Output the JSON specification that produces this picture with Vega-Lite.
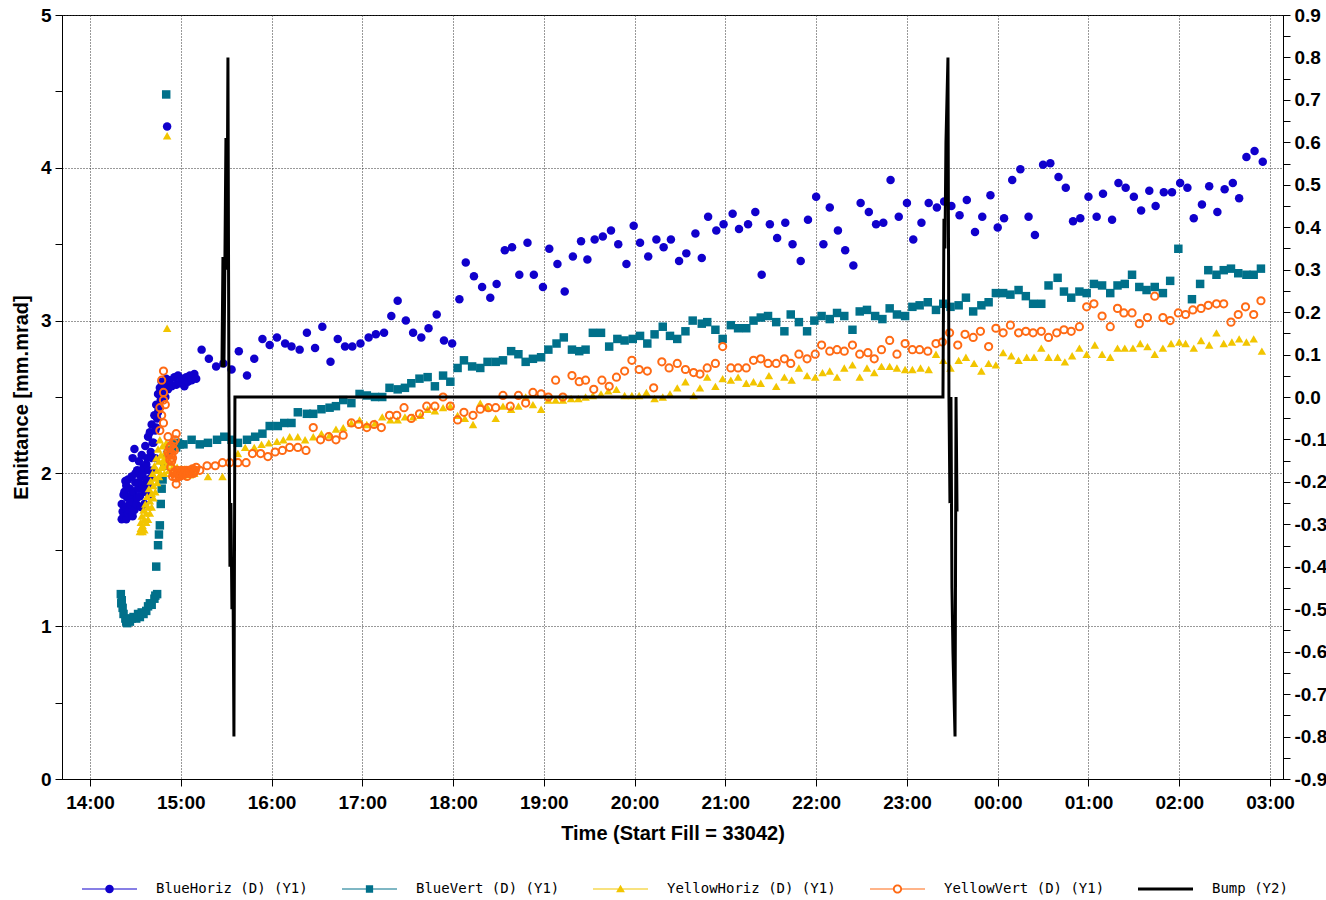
{
  "$schema": "https://vega.github.io/schema/vega-lite/v6.json",
  "width": 1221,
  "height": 764,
  "autosize": {"type": "none"},
  "padding": {"left": 62, "top": 15, "right": 43, "bottom": 121},
  "background": "white",
  "config": {
    "view": {"stroke": "black", "strokeWidth": 1},
    "axis": {
      "domainColor": "black", "tickColor": "black", "labelColor": "black", "titleColor": "black",
      "labelFont": "Liberation Sans", "labelFontWeight": "bold", "labelFontSize": 19,
      "titleFont": "Liberation Sans", "titleFontWeight": "bold", "titleFontSize": 20,
      "gridColor": "#333333", "gridDash": [1, 2], "gridWidth": 1, "tickSize": 7, "tickWidth": 1, "labelPadding": 4
    }
  },
  "datasets": {
    "pts": [
      {"t":14.35,"s":"BH","v":1.70},{"t":14.35,"s":"BH","v":1.80},{"t":14.36,"s":"BH","v":1.75},{"t":14.37,"s":"BH","v":1.72},{"t":14.37,"s":"BH","v":1.86},{"t":14.38,"s":"BH","v":1.88},{"t":14.39,"s":"BH","v":1.78},{"t":14.39,"s":"BH","v":1.95},{"t":14.40,"s":"BH","v":1.92},{"t":14.40,"s":"BH","v":1.70},{"t":14.41,"s":"BH","v":1.84},{"t":14.42,"s":"BH","v":1.96},{"t":14.42,"s":"BH","v":1.74},{"t":14.43,"s":"BH","v":1.76},{"t":14.44,"s":"BH","v":1.90},{"t":14.44,"s":"BH","v":1.80},{"t":14.45,"s":"BH","v":1.82},{"t":14.46,"s":"BH","v":1.98},{"t":14.46,"s":"BH","v":1.86},{"t":14.47,"s":"BH","v":1.72},{"t":14.47,"s":"BH","v":2.10},{"t":14.48,"s":"BH","v":1.88},{"t":14.49,"s":"BH","v":2.16},{"t":14.49,"s":"BH","v":1.76},{"t":14.50,"s":"BH","v":1.94},{"t":14.50,"s":"BH","v":2.00},{"t":14.51,"s":"BH","v":1.80},{"t":14.52,"s":"BH","v":2.02},{"t":14.52,"s":"BH","v":1.84},{"t":14.53,"s":"BH","v":1.90},{"t":14.54,"s":"BH","v":2.08},{"t":14.54,"s":"BH","v":1.94},{"t":14.55,"s":"BH","v":1.85},{"t":14.56,"s":"BH","v":1.98},{"t":14.56,"s":"BH","v":1.78},{"t":14.57,"s":"BH","v":2.12},{"t":14.58,"s":"BH","v":1.92},{"t":14.58,"s":"BH","v":2.00},{"t":14.59,"s":"BH","v":2.04},{"t":14.60,"s":"BH","v":1.88},{"t":14.60,"s":"BH","v":1.80},{"t":14.61,"s":"BH","v":2.18},{"t":14.62,"s":"BH","v":1.96},{"t":14.62,"s":"BH","v":2.06},{"t":14.63,"s":"BH","v":2.10},{"t":14.64,"s":"BH","v":2.24},{"t":14.64,"s":"BH","v":1.92},{"t":14.65,"s":"BH","v":2.02},{"t":14.65,"s":"BH","v":1.86},{"t":14.66,"s":"BH","v":2.27},{"t":14.67,"s":"BH","v":2.14},{"t":14.67,"s":"BH","v":1.97},{"t":14.68,"s":"BH","v":2.32},{"t":14.68,"s":"BH","v":2.10},{"t":14.69,"s":"BH","v":2.20},{"t":14.70,"s":"BH","v":2.02},{"t":14.70,"s":"BH","v":2.20},{"t":14.71,"s":"BH","v":2.38},{"t":14.72,"s":"BH","v":2.28},{"t":14.72,"s":"BH","v":2.10},{"t":14.73,"s":"BH","v":2.45},{"t":14.73,"s":"BH","v":2.30},{"t":14.74,"s":"BH","v":2.36},{"t":14.75,"s":"BH","v":2.52},{"t":14.75,"s":"BH","v":2.40},{"t":14.76,"s":"BH","v":2.42},{"t":14.77,"s":"BH","v":2.56},{"t":14.78,"s":"BH","v":2.48},{"t":14.79,"s":"BH","v":2.60},{"t":14.80,"s":"BH","v":2.52},{"t":14.82,"s":"BH","v":2.58},{"t":14.83,"s":"BH","v":2.50},{"t":14.84,"s":"BH","v":2.62},{"t":14.85,"s":"BH","v":4.27},{"t":14.86,"s":"BH","v":2.55},{"t":14.88,"s":"BH","v":2.61},{"t":14.90,"s":"BH","v":2.57},{"t":14.93,"s":"BH","v":2.63},{"t":14.95,"s":"BH","v":2.58},{"t":14.97,"s":"BH","v":2.64},{"t":14.99,"s":"BH","v":2.59},{"t":15.01,"s":"BH","v":2.62},{"t":15.04,"s":"BH","v":2.57},{"t":15.06,"s":"BH","v":2.63},{"t":15.08,"s":"BH","v":2.60},{"t":15.10,"s":"BH","v":2.64},{"t":15.12,"s":"BH","v":2.61},{"t":15.15,"s":"BH","v":2.65},{"t":15.17,"s":"BH","v":2.62},
      {"t":15.23,"s":"BH","v":2.81},{"t":15.31,"s":"BH","v":2.75},{"t":15.39,"s":"BH","v":2.70},{"t":15.47,"s":"BH","v":2.72},{"t":15.56,"s":"BH","v":2.68},{"t":15.64,"s":"BH","v":2.80},{"t":15.73,"s":"BH","v":2.64},{"t":15.81,"s":"BH","v":2.75},{"t":15.90,"s":"BH","v":2.88},{"t":15.98,"s":"BH","v":2.84},{"t":16.06,"s":"BH","v":2.89},{"t":16.15,"s":"BH","v":2.85},{"t":16.22,"s":"BH","v":2.83},{"t":16.31,"s":"BH","v":2.81},{"t":16.39,"s":"BH","v":2.92},{"t":16.48,"s":"BH","v":2.82},{"t":16.56,"s":"BH","v":2.96},{"t":16.65,"s":"BH","v":2.73},{"t":16.73,"s":"BH","v":2.88},{"t":16.81,"s":"BH","v":2.83},{"t":16.89,"s":"BH","v":2.83},{"t":16.98,"s":"BH","v":2.85},{"t":17.07,"s":"BH","v":2.89},{"t":17.15,"s":"BH","v":2.91},{"t":17.24,"s":"BH","v":2.92},{"t":17.32,"s":"BH","v":3.03},{"t":17.39,"s":"BH","v":3.13},{"t":17.48,"s":"BH","v":3.00},{"t":17.56,"s":"BH","v":2.92},{"t":17.65,"s":"BH","v":2.89},{"t":17.73,"s":"BH","v":2.95},{"t":17.82,"s":"BH","v":3.04},{"t":17.90,"s":"BH","v":2.87},{"t":17.99,"s":"BH","v":2.85},{"t":18.07,"s":"BH","v":3.14},{"t":18.14,"s":"BH","v":3.38},{"t":18.23,"s":"BH","v":3.29},{"t":18.32,"s":"BH","v":3.22},{"t":18.41,"s":"BH","v":3.15},{"t":18.48,"s":"BH","v":3.24},{"t":18.57,"s":"BH","v":3.46},{"t":18.65,"s":"BH","v":3.48},{"t":18.73,"s":"BH","v":3.30},{"t":18.82,"s":"BH","v":3.51},{"t":18.89,"s":"BH","v":3.30},{"t":18.99,"s":"BH","v":3.22},{"t":19.06,"s":"BH","v":3.47},{"t":19.15,"s":"BH","v":3.37},{"t":19.23,"s":"BH","v":3.19},{"t":19.32,"s":"BH","v":3.42},{"t":19.41,"s":"BH","v":3.52},{"t":19.48,"s":"BH","v":3.40},{"t":19.56,"s":"BH","v":3.53},{"t":19.65,"s":"BH","v":3.55},{"t":19.74,"s":"BH","v":3.59},{"t":19.82,"s":"BH","v":3.50},{"t":19.91,"s":"BH","v":3.37},{"t":19.99,"s":"BH","v":3.62},{"t":20.06,"s":"BH","v":3.51},{"t":20.15,"s":"BH","v":3.42},{"t":20.24,"s":"BH","v":3.53},{"t":20.32,"s":"BH","v":3.48},{"t":20.40,"s":"BH","v":3.53},{"t":20.49,"s":"BH","v":3.39},{"t":20.57,"s":"BH","v":3.44},{"t":20.67,"s":"BH","v":3.57},{"t":20.74,"s":"BH","v":3.41},{"t":20.81,"s":"BH","v":3.68},{"t":20.90,"s":"BH","v":3.59},{"t":20.98,"s":"BH","v":3.63},{"t":21.08,"s":"BH","v":3.70},{"t":21.15,"s":"BH","v":3.60},{"t":21.25,"s":"BH","v":3.63},{"t":21.33,"s":"BH","v":3.71},{"t":21.40,"s":"BH","v":3.30},{"t":21.49,"s":"BH","v":3.63},{"t":21.57,"s":"BH","v":3.54},{"t":21.66,"s":"BH","v":3.64},{"t":21.74,"s":"BH","v":3.50},{"t":21.83,"s":"BH","v":3.39},{"t":21.91,"s":"BH","v":3.66},{"t":22.00,"s":"BH","v":3.81},{"t":22.08,"s":"BH","v":3.50},{"t":22.15,"s":"BH","v":3.74},{"t":22.24,"s":"BH","v":3.59},{"t":22.32,"s":"BH","v":3.46},{"t":22.41,"s":"BH","v":3.36},{"t":22.49,"s":"BH","v":3.77},{"t":22.58,"s":"BH","v":3.71},{"t":22.66,"s":"BH","v":3.63},{"t":22.74,"s":"BH","v":3.64},{"t":22.82,"s":"BH","v":3.92},{"t":22.91,"s":"BH","v":3.68},{"t":23.00,"s":"BH","v":3.77},{"t":23.07,"s":"BH","v":3.53},{"t":23.16,"s":"BH","v":3.64},{"t":23.24,"s":"BH","v":3.77},{"t":23.33,"s":"BH","v":3.74},{"t":23.41,"s":"BH","v":3.78},{"t":23.49,"s":"BH","v":3.75},{"t":23.58,"s":"BH","v":3.69},{"t":23.66,"s":"BH","v":3.79},{"t":23.75,"s":"BH","v":3.58},{"t":23.83,"s":"BH","v":3.68},{"t":23.92,"s":"BH","v":3.82},{"t":24.00,"s":"BH","v":3.61},{"t":24.07,"s":"BH","v":3.67},{"t":24.16,"s":"BH","v":3.92},{"t":24.25,"s":"BH","v":3.99},{"t":24.34,"s":"BH","v":3.68},{"t":24.41,"s":"BH","v":3.56},{"t":24.50,"s":"BH","v":4.02},{"t":24.58,"s":"BH","v":4.03},{"t":24.67,"s":"BH","v":3.94},{"t":24.75,"s":"BH","v":3.87},{"t":24.83,"s":"BH","v":3.65},{"t":24.91,"s":"BH","v":3.67},{"t":25.00,"s":"BH","v":3.81},{"t":25.09,"s":"BH","v":3.68},{"t":25.16,"s":"BH","v":3.83},{"t":25.26,"s":"BH","v":3.66},{"t":25.33,"s":"BH","v":3.90},{"t":25.41,"s":"BH","v":3.87},{"t":25.50,"s":"BH","v":3.81},{"t":25.58,"s":"BH","v":3.72},{"t":25.67,"s":"BH","v":3.85},{"t":25.74,"s":"BH","v":3.75},{"t":25.83,"s":"BH","v":3.84},{"t":25.92,"s":"BH","v":3.84},{"t":26.01,"s":"BH","v":3.90},{"t":26.09,"s":"BH","v":3.87},{"t":26.16,"s":"BH","v":3.67},{"t":26.25,"s":"BH","v":3.76},{"t":26.33,"s":"BH","v":3.88},{"t":26.42,"s":"BH","v":3.71},{"t":26.50,"s":"BH","v":3.86},{"t":26.59,"s":"BH","v":3.90},{"t":26.66,"s":"BH","v":3.80},{"t":26.74,"s":"BH","v":4.07},{"t":26.83,"s":"BH","v":4.11},{"t":26.92,"s":"BH","v":4.04},
      {"t":14.34,"s":"BV","v":1.21},{"t":14.345,"s":"BV","v":1.15},{"t":14.35,"s":"BV","v":1.17},{"t":14.36,"s":"BV","v":1.12},{"t":14.37,"s":"BV","v":1.08},{"t":14.39,"s":"BV","v":1.05},{"t":14.40,"s":"BV","v":1.03},{"t":14.41,"s":"BV","v":1.02},{"t":14.42,"s":"BV","v":1.04},{"t":14.44,"s":"BV","v":1.03},{"t":14.46,"s":"BV","v":1.05},{"t":14.48,"s":"BV","v":1.06},{"t":14.51,"s":"BV","v":1.05},{"t":14.53,"s":"BV","v":1.08},{"t":14.55,"s":"BV","v":1.06},{"t":14.57,"s":"BV","v":1.09},{"t":14.59,"s":"BV","v":1.08},{"t":14.62,"s":"BV","v":1.10},{"t":14.64,"s":"BV","v":1.13},{"t":14.66,"s":"BV","v":1.15},{"t":14.68,"s":"BV","v":1.14},{"t":14.71,"s":"BV","v":1.18},{"t":14.72,"s":"BV","v":1.20},{"t":14.73,"s":"BV","v":1.39},{"t":14.74,"s":"BV","v":1.21},{"t":14.75,"s":"BV","v":1.53},{"t":14.76,"s":"BV","v":1.60},{"t":14.77,"s":"BV","v":1.66},{"t":14.78,"s":"BV","v":1.80},{"t":14.79,"s":"BV","v":1.90},{"t":14.80,"s":"BV","v":1.96},{"t":14.82,"s":"BV","v":2.05},{"t":14.84,"s":"BV","v":4.48},{"t":14.85,"s":"BV","v":2.12},{"t":14.86,"s":"BV","v":2.15},{"t":14.88,"s":"BV","v":2.18},{"t":14.90,"s":"BV","v":2.16},{"t":14.93,"s":"BV","v":2.19},{"t":14.95,"s":"BV","v":2.17},{"t":14.97,"s":"BV","v":2.20},{"t":14.99,"s":"BV","v":2.19},
      {"t":15.03,"s":"BV","v":2.19},{"t":15.12,"s":"BV","v":2.22},{"t":15.21,"s":"BV","v":2.19},{"t":15.30,"s":"BV","v":2.20},{"t":15.40,"s":"BV","v":2.22},{"t":15.48,"s":"BV","v":2.24},{"t":15.56,"s":"BV","v":2.22},{"t":15.63,"s":"BV","v":2.20},{"t":15.73,"s":"BV","v":2.22},{"t":15.82,"s":"BV","v":2.24},{"t":15.90,"s":"BV","v":2.26},{"t":15.98,"s":"BV","v":2.31},{"t":16.07,"s":"BV","v":2.31},{"t":16.14,"s":"BV","v":2.33},{"t":16.22,"s":"BV","v":2.33},{"t":16.29,"s":"BV","v":2.40},{"t":16.39,"s":"BV","v":2.39},{"t":16.46,"s":"BV","v":2.39},{"t":16.55,"s":"BV","v":2.42},{"t":16.64,"s":"BV","v":2.43},{"t":16.71,"s":"BV","v":2.44},{"t":16.79,"s":"BV","v":2.48},{"t":16.88,"s":"BV","v":2.46},{"t":16.97,"s":"BV","v":2.52},{"t":17.05,"s":"BV","v":2.51},{"t":17.14,"s":"BV","v":2.50},{"t":17.22,"s":"BV","v":2.50},{"t":17.30,"s":"BV","v":2.56},{"t":17.39,"s":"BV","v":2.55},{"t":17.47,"s":"BV","v":2.56},{"t":17.54,"s":"BV","v":2.59},{"t":17.63,"s":"BV","v":2.62},{"t":17.72,"s":"BV","v":2.63},{"t":17.80,"s":"BV","v":2.57},{"t":17.89,"s":"BV","v":2.64},{"t":17.97,"s":"BV","v":2.60},{"t":18.05,"s":"BV","v":2.69},{"t":18.12,"s":"BV","v":2.74},{"t":18.21,"s":"BV","v":2.70},{"t":18.30,"s":"BV","v":2.69},{"t":18.38,"s":"BV","v":2.73},{"t":18.47,"s":"BV","v":2.73},{"t":18.55,"s":"BV","v":2.74},{"t":18.64,"s":"BV","v":2.80},{"t":18.72,"s":"BV","v":2.78},{"t":18.80,"s":"BV","v":2.73},{"t":18.88,"s":"BV","v":2.75},{"t":18.97,"s":"BV","v":2.76},{"t":19.05,"s":"BV","v":2.81},{"t":19.14,"s":"BV","v":2.85},{"t":19.22,"s":"BV","v":2.89},{"t":19.31,"s":"BV","v":2.81},{"t":19.39,"s":"BV","v":2.80},{"t":19.46,"s":"BV","v":2.81},{"t":19.54,"s":"BV","v":2.92},{"t":19.63,"s":"BV","v":2.92},{"t":19.72,"s":"BV","v":2.83},{"t":19.81,"s":"BV","v":2.88},{"t":19.89,"s":"BV","v":2.87},{"t":19.98,"s":"BV","v":2.88},{"t":20.06,"s":"BV","v":2.90},{"t":20.14,"s":"BV","v":2.85},{"t":20.22,"s":"BV","v":2.91},{"t":20.31,"s":"BV","v":2.96},{"t":20.39,"s":"BV","v":2.90},{"t":20.47,"s":"BV","v":2.88},{"t":20.56,"s":"BV","v":2.93},{"t":20.64,"s":"BV","v":3.00},{"t":20.74,"s":"BV","v":2.98},{"t":20.80,"s":"BV","v":2.99},{"t":20.89,"s":"BV","v":2.94},{"t":20.97,"s":"BV","v":2.88},{"t":21.06,"s":"BV","v":2.97},{"t":21.14,"s":"BV","v":2.95},{"t":21.23,"s":"BV","v":2.95},{"t":21.31,"s":"BV","v":3.00},{"t":21.39,"s":"BV","v":3.02},{"t":21.47,"s":"BV","v":3.03},{"t":21.56,"s":"BV","v":2.99},{"t":21.65,"s":"BV","v":2.93},{"t":21.72,"s":"BV","v":3.04},{"t":21.81,"s":"BV","v":2.99},{"t":21.90,"s":"BV","v":2.93},{"t":21.98,"s":"BV","v":3.00},{"t":22.06,"s":"BV","v":3.03},{"t":22.15,"s":"BV","v":3.01},{"t":22.23,"s":"BV","v":3.05},{"t":22.31,"s":"BV","v":3.03},{"t":22.40,"s":"BV","v":2.94},{"t":22.48,"s":"BV","v":3.06},{"t":22.56,"s":"BV","v":3.07},{"t":22.65,"s":"BV","v":3.03},{"t":22.73,"s":"BV","v":3.01},{"t":22.81,"s":"BV","v":3.08},{"t":22.89,"s":"BV","v":3.04},{"t":22.98,"s":"BV","v":3.03},{"t":23.06,"s":"BV","v":3.09},{"t":23.14,"s":"BV","v":3.10},{"t":23.23,"s":"BV","v":3.12},{"t":23.32,"s":"BV","v":3.07},{"t":23.40,"s":"BV","v":3.11},{"t":23.48,"s":"BV","v":3.09},{"t":23.57,"s":"BV","v":3.10},{"t":23.65,"s":"BV","v":3.15},{"t":23.73,"s":"BV","v":3.06},{"t":23.82,"s":"BV","v":3.10},{"t":23.90,"s":"BV","v":3.12},{"t":23.98,"s":"BV","v":3.18},{"t":24.06,"s":"BV","v":3.18},{"t":24.14,"s":"BV","v":3.17},{"t":24.23,"s":"BV","v":3.20},{"t":24.31,"s":"BV","v":3.16},{"t":24.39,"s":"BV","v":3.11},{"t":24.48,"s":"BV","v":3.11},{"t":24.56,"s":"BV","v":3.23},{"t":24.66,"s":"BV","v":3.28},{"t":24.73,"s":"BV","v":3.19},{"t":24.81,"s":"BV","v":3.15},{"t":24.90,"s":"BV","v":3.19},{"t":24.98,"s":"BV","v":3.18},{"t":25.06,"s":"BV","v":3.24},{"t":25.15,"s":"BV","v":3.23},{"t":25.24,"s":"BV","v":3.18},{"t":25.32,"s":"BV","v":3.23},{"t":25.40,"s":"BV","v":3.24},{"t":25.48,"s":"BV","v":3.30},{"t":25.56,"s":"BV","v":3.22},{"t":25.64,"s":"BV","v":3.20},{"t":25.73,"s":"BV","v":3.22},{"t":25.82,"s":"BV","v":3.18},{"t":25.90,"s":"BV","v":3.26},{"t":25.99,"s":"BV","v":3.47},{"t":26.14,"s":"BV","v":3.14},{"t":26.23,"s":"BV","v":3.24},{"t":26.32,"s":"BV","v":3.33},{"t":26.41,"s":"BV","v":3.30},{"t":26.49,"s":"BV","v":3.33},{"t":26.57,"s":"BV","v":3.34},{"t":26.65,"s":"BV","v":3.31},{"t":26.74,"s":"BV","v":3.30},{"t":26.82,"s":"BV","v":3.30},{"t":26.90,"s":"BV","v":3.34},
      {"t":14.55,"s":"YH","v":1.62},{"t":14.56,"s":"YH","v":1.68},{"t":14.56,"s":"YH","v":1.64},{"t":14.57,"s":"YH","v":1.72},{"t":14.58,"s":"YH","v":1.66},{"t":14.58,"s":"YH","v":1.62},{"t":14.59,"s":"YH","v":1.76},{"t":14.60,"s":"YH","v":1.70},{"t":14.60,"s":"YH","v":1.63},{"t":14.61,"s":"YH","v":1.80},{"t":14.62,"s":"YH","v":1.74},{"t":14.62,"s":"YH","v":1.68},{"t":14.63,"s":"YH","v":1.85},{"t":14.64,"s":"YH","v":1.78},{"t":14.64,"s":"YH","v":1.70},{"t":14.65,"s":"YH","v":1.90},{"t":14.66,"s":"YH","v":1.82},{"t":14.66,"s":"YH","v":1.74},{"t":14.67,"s":"YH","v":1.95},{"t":14.68,"s":"YH","v":1.87},{"t":14.68,"s":"YH","v":1.78},{"t":14.69,"s":"YH","v":2.00},{"t":14.70,"s":"YH","v":1.92},{"t":14.70,"s":"YH","v":1.84},{"t":14.71,"s":"YH","v":2.05},{"t":14.72,"s":"YH","v":1.97},{"t":14.72,"s":"YH","v":1.88},{"t":14.73,"s":"YH","v":2.10},{"t":14.74,"s":"YH","v":2.02},{"t":14.74,"s":"YH","v":1.94},{"t":14.75,"s":"YH","v":2.16},{"t":14.76,"s":"YH","v":2.08},{"t":14.76,"s":"YH","v":1.98},{"t":14.77,"s":"YH","v":2.22},{"t":14.78,"s":"YH","v":2.12},{"t":14.78,"s":"YH","v":2.00},{"t":14.79,"s":"YH","v":2.04},{"t":14.80,"s":"YH","v":2.18},{"t":14.80,"s":"YH","v":2.05},{"t":14.81,"s":"YH","v":2.08},{"t":14.82,"s":"YH","v":2.00},{"t":14.82,"s":"YH","v":2.10},{"t":14.83,"s":"YH","v":2.14},{"t":14.84,"s":"YH","v":2.05},{"t":14.84,"s":"YH","v":2.20},{"t":14.85,"s":"YH","v":4.21},{"t":14.85,"s":"YH","v":2.95},{"t":14.86,"s":"YH","v":2.10},{"t":14.87,"s":"YH","v":2.02},{"t":14.88,"s":"YH","v":2.07},{"t":14.90,"s":"YH","v":2.00},{"t":14.92,"s":"YH","v":2.05},{"t":14.94,"s":"YH","v":2.01},{"t":14.96,"s":"YH","v":2.04},{"t":14.98,"s":"YH","v":2.00},{"t":15.00,"s":"YH","v":2.03},{"t":15.02,"s":"YH","v":1.99},{"t":15.04,"s":"YH","v":2.03},{"t":15.06,"s":"YH","v":2.00},{"t":15.08,"s":"YH","v":2.02},{"t":15.10,"s":"YH","v":1.99},{"t":15.12,"s":"YH","v":2.02},{"t":15.15,"s":"YH","v":2.00},
      {"t":15.30,"s":"YH","v":1.98},{"t":15.46,"s":"YH","v":1.98},{"t":15.63,"s":"YH","v":2.13},{"t":15.71,"s":"YH","v":2.17},{"t":15.81,"s":"YH","v":2.17},{"t":15.89,"s":"YH","v":2.19},{"t":15.97,"s":"YH","v":2.20},{"t":16.06,"s":"YH","v":2.21},{"t":16.13,"s":"YH","v":2.22},{"t":16.20,"s":"YH","v":2.24},{"t":16.29,"s":"YH","v":2.24},{"t":16.37,"s":"YH","v":2.22},{"t":16.46,"s":"YH","v":2.24},{"t":16.55,"s":"YH","v":2.26},{"t":16.64,"s":"YH","v":2.25},{"t":16.71,"s":"YH","v":2.29},{"t":16.79,"s":"YH","v":2.30},{"t":16.88,"s":"YH","v":2.33},{"t":16.97,"s":"YH","v":2.35},{"t":17.05,"s":"YH","v":2.32},{"t":17.14,"s":"YH","v":2.33},{"t":17.22,"s":"YH","v":2.37},{"t":17.31,"s":"YH","v":2.35},{"t":17.39,"s":"YH","v":2.35},{"t":17.47,"s":"YH","v":2.37},{"t":17.56,"s":"YH","v":2.37},{"t":17.64,"s":"YH","v":2.38},{"t":17.72,"s":"YH","v":2.42},{"t":17.80,"s":"YH","v":2.41},{"t":17.89,"s":"YH","v":2.43},{"t":17.97,"s":"YH","v":2.44},{"t":18.05,"s":"YH","v":2.38},{"t":18.13,"s":"YH","v":2.36},{"t":18.22,"s":"YH","v":2.32},{"t":18.30,"s":"YH","v":2.46},{"t":18.38,"s":"YH","v":2.43},{"t":18.47,"s":"YH","v":2.36},{"t":18.55,"s":"YH","v":2.44},{"t":18.64,"s":"YH","v":2.42},{"t":18.72,"s":"YH","v":2.44},{"t":18.80,"s":"YH","v":2.50},{"t":18.88,"s":"YH","v":2.45},{"t":18.97,"s":"YH","v":2.42},{"t":19.05,"s":"YH","v":2.48},{"t":19.13,"s":"YH","v":2.48},{"t":19.21,"s":"YH","v":2.48},{"t":19.30,"s":"YH","v":2.49},{"t":19.38,"s":"YH","v":2.49},{"t":19.46,"s":"YH","v":2.50},{"t":19.54,"s":"YH","v":2.51},{"t":19.63,"s":"YH","v":2.52},{"t":19.71,"s":"YH","v":2.54},{"t":19.80,"s":"YH","v":2.55},{"t":19.89,"s":"YH","v":2.51},{"t":19.97,"s":"YH","v":2.51},{"t":20.05,"s":"YH","v":2.51},{"t":20.13,"s":"YH","v":2.53},{"t":20.22,"s":"YH","v":2.49},{"t":20.31,"s":"YH","v":2.50},{"t":20.39,"s":"YH","v":2.52},{"t":20.47,"s":"YH","v":2.56},{"t":20.56,"s":"YH","v":2.60},{"t":20.65,"s":"YH","v":2.51},{"t":20.72,"s":"YH","v":2.56},{"t":20.80,"s":"YH","v":2.63},{"t":20.89,"s":"YH","v":2.57},{"t":20.97,"s":"YH","v":2.62},{"t":21.06,"s":"YH","v":2.61},{"t":21.14,"s":"YH","v":2.63},{"t":21.23,"s":"YH","v":2.59},{"t":21.31,"s":"YH","v":2.60},{"t":21.39,"s":"YH","v":2.59},{"t":21.48,"s":"YH","v":2.64},{"t":21.56,"s":"YH","v":2.57},{"t":21.65,"s":"YH","v":2.63},{"t":21.73,"s":"YH","v":2.61},{"t":21.81,"s":"YH","v":2.69},{"t":21.90,"s":"YH","v":2.64},{"t":21.99,"s":"YH","v":2.63},{"t":22.07,"s":"YH","v":2.66},{"t":22.15,"s":"YH","v":2.67},{"t":22.23,"s":"YH","v":2.63},{"t":22.31,"s":"YH","v":2.69},{"t":22.40,"s":"YH","v":2.71},{"t":22.48,"s":"YH","v":2.63},{"t":22.56,"s":"YH","v":2.69},{"t":22.64,"s":"YH","v":2.66},{"t":22.72,"s":"YH","v":2.70},{"t":22.81,"s":"YH","v":2.70},{"t":22.89,"s":"YH","v":2.69},{"t":22.98,"s":"YH","v":2.68},{"t":23.06,"s":"YH","v":2.68},{"t":23.15,"s":"YH","v":2.69},{"t":23.24,"s":"YH","v":2.68},{"t":23.32,"s":"YH","v":2.78},{"t":23.40,"s":"YH","v":2.74},{"t":23.48,"s":"YH","v":2.69},{"t":23.57,"s":"YH","v":2.74},{"t":23.65,"s":"YH","v":2.76},{"t":23.74,"s":"YH","v":2.72},{"t":23.82,"s":"YH","v":2.67},{"t":23.90,"s":"YH","v":2.72},{"t":23.98,"s":"YH","v":2.71},{"t":24.06,"s":"YH","v":2.79},{"t":24.15,"s":"YH","v":2.77},{"t":24.23,"s":"YH","v":2.74},{"t":24.32,"s":"YH","v":2.76},{"t":24.40,"s":"YH","v":2.76},{"t":24.48,"s":"YH","v":2.82},{"t":24.56,"s":"YH","v":2.76},{"t":24.66,"s":"YH","v":2.76},{"t":24.74,"s":"YH","v":2.73},{"t":24.82,"s":"YH","v":2.77},{"t":24.90,"s":"YH","v":2.82},{"t":24.98,"s":"YH","v":2.78},{"t":25.07,"s":"YH","v":2.84},{"t":25.15,"s":"YH","v":2.78},{"t":25.24,"s":"YH","v":2.76},{"t":25.32,"s":"YH","v":2.82},{"t":25.40,"s":"YH","v":2.82},{"t":25.49,"s":"YH","v":2.82},{"t":25.57,"s":"YH","v":2.85},{"t":25.65,"s":"YH","v":2.83},{"t":25.73,"s":"YH","v":2.78},{"t":25.82,"s":"YH","v":2.82},{"t":25.91,"s":"YH","v":2.85},{"t":26.00,"s":"YH","v":2.86},{"t":26.07,"s":"YH","v":2.85},{"t":26.16,"s":"YH","v":2.82},{"t":26.24,"s":"YH","v":2.87},{"t":26.33,"s":"YH","v":2.84},{"t":26.41,"s":"YH","v":2.92},{"t":26.49,"s":"YH","v":2.85},{"t":26.58,"s":"YH","v":2.86},{"t":26.66,"s":"YH","v":2.88},{"t":26.74,"s":"YH","v":2.86},{"t":26.82,"s":"YH","v":2.88},{"t":26.91,"s":"YH","v":2.80},
      {"t":14.77,"s":"YV","v":2.43},{"t":14.77,"s":"YV","v":2.28},{"t":14.79,"s":"YV","v":2.61},{"t":14.79,"s":"YV","v":2.38},{"t":14.81,"s":"YV","v":2.67},{"t":14.81,"s":"YV","v":2.53},{"t":14.81,"s":"YV","v":2.48},{"t":14.81,"s":"YV","v":2.33},{"t":14.83,"s":"YV","v":2.45},{"t":14.86,"s":"YV","v":2.24},{"t":14.86,"s":"YV","v":2.14},{"t":14.87,"s":"YV","v":2.12},{"t":14.88,"s":"YV","v":2.17},{"t":14.88,"s":"YV","v":2.09},{"t":14.89,"s":"YV","v":2.18},{"t":14.89,"s":"YV","v":2.04},{"t":14.90,"s":"YV","v":2.12},{"t":14.90,"s":"YV","v":2.08},{"t":14.90,"s":"YV","v":2.13},{"t":14.91,"s":"YV","v":2.10},{"t":14.92,"s":"YV","v":2.16},{"t":14.92,"s":"YV","v":2.20},{"t":14.93,"s":"YV","v":2.15},{"t":14.94,"s":"YV","v":2.22},{"t":14.95,"s":"YV","v":2.26},{"t":14.95,"s":"YV","v":1.93},{"t":14.91,"s":"YV","v":1.98},{"t":14.92,"s":"YV","v":2.00},{"t":14.93,"s":"YV","v":2.01},{"t":14.94,"s":"YV","v":1.98},{"t":14.95,"s":"YV","v":1.97},{"t":14.96,"s":"YV","v":2.02},{"t":14.97,"s":"YV","v":2.00},{"t":14.98,"s":"YV","v":2.00},{"t":14.99,"s":"YV","v":1.98},{"t":15.00,"s":"YV","v":1.99},{"t":15.01,"s":"YV","v":2.02},{"t":15.02,"s":"YV","v":2.01},{"t":15.03,"s":"YV","v":1.99},{"t":15.04,"s":"YV","v":2.00},{"t":15.05,"s":"YV","v":2.01},{"t":15.06,"s":"YV","v":2.02},{"t":15.07,"s":"YV","v":1.98},{"t":15.08,"s":"YV","v":2.00},{"t":15.09,"s":"YV","v":2.02},{"t":15.10,"s":"YV","v":2.01},{"t":15.11,"s":"YV","v":2.00},{"t":15.12,"s":"YV","v":2.02},{"t":15.13,"s":"YV","v":2.03},{"t":15.14,"s":"YV","v":2.00},{"t":15.15,"s":"YV","v":2.01},{"t":15.16,"s":"YV","v":2.02},{"t":15.17,"s":"YV","v":2.04},
      {"t":15.21,"s":"YV","v":2.02},{"t":15.29,"s":"YV","v":2.05},{"t":15.38,"s":"YV","v":2.05},{"t":15.46,"s":"YV","v":2.07},{"t":15.54,"s":"YV","v":2.07},{"t":15.63,"s":"YV","v":2.07},{"t":15.72,"s":"YV","v":2.07},{"t":15.79,"s":"YV","v":2.13},{"t":15.88,"s":"YV","v":2.13},{"t":15.96,"s":"YV","v":2.11},{"t":16.04,"s":"YV","v":2.14},{"t":16.12,"s":"YV","v":2.15},{"t":16.20,"s":"YV","v":2.17},{"t":16.29,"s":"YV","v":2.17},{"t":16.38,"s":"YV","v":2.15},{"t":16.46,"s":"YV","v":2.30},{"t":16.54,"s":"YV","v":2.22},{"t":16.63,"s":"YV","v":2.24},{"t":16.71,"s":"YV","v":2.22},{"t":16.79,"s":"YV","v":2.25},{"t":16.88,"s":"YV","v":2.33},{"t":16.96,"s":"YV","v":2.32},{"t":17.05,"s":"YV","v":2.30},{"t":17.13,"s":"YV","v":2.32},{"t":17.21,"s":"YV","v":2.30},{"t":17.30,"s":"YV","v":2.38},{"t":17.38,"s":"YV","v":2.38},{"t":17.46,"s":"YV","v":2.43},{"t":17.54,"s":"YV","v":2.36},{"t":17.63,"s":"YV","v":2.39},{"t":17.71,"s":"YV","v":2.44},{"t":17.80,"s":"YV","v":2.44},{"t":17.89,"s":"YV","v":2.50},{"t":17.97,"s":"YV","v":2.44},{"t":18.05,"s":"YV","v":2.35},{"t":18.12,"s":"YV","v":2.40},{"t":18.22,"s":"YV","v":2.38},{"t":18.30,"s":"YV","v":2.42},{"t":18.39,"s":"YV","v":2.43},{"t":18.47,"s":"YV","v":2.43},{"t":18.55,"s":"YV","v":2.51},{"t":18.63,"s":"YV","v":2.44},{"t":18.72,"s":"YV","v":2.51},{"t":18.80,"s":"YV","v":2.46},{"t":18.88,"s":"YV","v":2.53},{"t":18.97,"s":"YV","v":2.52},{"t":19.05,"s":"YV","v":2.50},{"t":19.13,"s":"YV","v":2.61},{"t":19.21,"s":"YV","v":2.50},{"t":19.31,"s":"YV","v":2.64},{"t":19.39,"s":"YV","v":2.60},{"t":19.46,"s":"YV","v":2.61},{"t":19.55,"s":"YV","v":2.55},{"t":19.64,"s":"YV","v":2.61},{"t":19.72,"s":"YV","v":2.57},{"t":19.80,"s":"YV","v":2.63},{"t":19.89,"s":"YV","v":2.67},{"t":19.97,"s":"YV","v":2.74},{"t":20.05,"s":"YV","v":2.68},{"t":20.14,"s":"YV","v":2.67},{"t":20.21,"s":"YV","v":2.56},{"t":20.30,"s":"YV","v":2.73},{"t":20.38,"s":"YV","v":2.69},{"t":20.47,"s":"YV","v":2.72},{"t":20.56,"s":"YV","v":2.68},{"t":20.65,"s":"YV","v":2.66},{"t":20.72,"s":"YV","v":2.65},{"t":20.80,"s":"YV","v":2.69},{"t":20.89,"s":"YV","v":2.72},{"t":20.97,"s":"YV","v":2.83},{"t":21.06,"s":"YV","v":2.69},{"t":21.14,"s":"YV","v":2.69},{"t":21.23,"s":"YV","v":2.69},{"t":21.31,"s":"YV","v":2.74},{"t":21.39,"s":"YV","v":2.75},{"t":21.47,"s":"YV","v":2.72},{"t":21.56,"s":"YV","v":2.72},{"t":21.65,"s":"YV","v":2.75},{"t":21.72,"s":"YV","v":2.72},{"t":21.81,"s":"YV","v":2.78},{"t":21.90,"s":"YV","v":2.75},{"t":21.99,"s":"YV","v":2.78},{"t":22.06,"s":"YV","v":2.84},{"t":22.15,"s":"YV","v":2.80},{"t":22.23,"s":"YV","v":2.81},{"t":22.31,"s":"YV","v":2.80},{"t":22.40,"s":"YV","v":2.84},{"t":22.48,"s":"YV","v":2.78},{"t":22.57,"s":"YV","v":2.79},{"t":22.64,"s":"YV","v":2.75},{"t":22.72,"s":"YV","v":2.81},{"t":22.81,"s":"YV","v":2.87},{"t":22.89,"s":"YV","v":2.78},{"t":22.98,"s":"YV","v":2.85},{"t":23.06,"s":"YV","v":2.81},{"t":23.14,"s":"YV","v":2.81},{"t":23.23,"s":"YV","v":2.80},{"t":23.32,"s":"YV","v":2.85},{"t":23.39,"s":"YV","v":2.86},{"t":23.47,"s":"YV","v":2.92},{"t":23.56,"s":"YV","v":2.84},{"t":23.64,"s":"YV","v":2.91},{"t":23.73,"s":"YV","v":2.89},{"t":23.81,"s":"YV","v":2.93},{"t":23.90,"s":"YV","v":2.83},{"t":23.98,"s":"YV","v":2.95},{"t":24.06,"s":"YV","v":2.92},{"t":24.14,"s":"YV","v":2.97},{"t":24.23,"s":"YV","v":2.92},{"t":24.31,"s":"YV","v":2.93},{"t":24.39,"s":"YV","v":2.92},{"t":24.48,"s":"YV","v":2.93},{"t":24.56,"s":"YV","v":2.89},{"t":24.65,"s":"YV","v":2.92},{"t":24.73,"s":"YV","v":2.94},{"t":24.81,"s":"YV","v":2.93},{"t":24.90,"s":"YV","v":2.96},{"t":24.98,"s":"YV","v":3.09},{"t":25.06,"s":"YV","v":3.11},{"t":25.15,"s":"YV","v":3.03},{"t":25.24,"s":"YV","v":2.96},{"t":25.32,"s":"YV","v":3.08},{"t":25.39,"s":"YV","v":3.05},{"t":25.48,"s":"YV","v":3.05},{"t":25.56,"s":"YV","v":2.98},{"t":25.65,"s":"YV","v":3.02},{"t":25.73,"s":"YV","v":3.16},{"t":25.82,"s":"YV","v":3.02},{"t":25.90,"s":"YV","v":3.00},{"t":25.99,"s":"YV","v":3.05},{"t":26.07,"s":"YV","v":3.04},{"t":26.15,"s":"YV","v":3.07},{"t":26.24,"s":"YV","v":3.08},{"t":26.32,"s":"YV","v":3.10},{"t":26.41,"s":"YV","v":3.11},{"t":26.49,"s":"YV","v":3.11},{"t":26.57,"s":"YV","v":2.99},{"t":26.65,"s":"YV","v":3.04},{"t":26.73,"s":"YV","v":3.09},{"t":26.82,"s":"YV","v":3.04},{"t":26.90,"s":"YV","v":3.13}
    ],
    "bump": [
      {"t":15.454,"b":0.07},{"t":15.465,"b":0.33},{"t":15.476,"b":0.07},{"t":15.487,"b":0.33},{"t":15.498,"b":0.61},{"t":15.509,"b":0.30},{"t":15.520,"b":0.80},{"t":15.531,"b":0.0},{"t":15.542,"b":-0.40},{"t":15.553,"b":-0.25},{"t":15.564,"b":-0.50},{"t":15.575,"b":-0.40},{"t":15.586,"b":-0.80},{"t":15.597,"b":0.0},
      {"t":23.397,"b":0.0},{"t":23.408,"b":0.42},{"t":23.419,"b":0.35},{"t":23.430,"b":0.60},{"t":23.452,"b":0.80},{"t":23.463,"b":0.0},{"t":23.474,"b":-0.25},{"t":23.485,"b":0.0},{"t":23.496,"b":-0.45},{"t":23.507,"b":-0.60},{"t":23.530,"b":-0.80},{"t":23.541,"b":0.0},{"t":23.552,"b":-0.27}
    ]
  },
  "layer": [
    {
      "layer": [
        {
          "data": {"name": "pts"},
          "transform": [{"filter": "datum.s != 'YV'"}],
          "mark": {"type": "point", "filled": true, "opacity": 1, "size": 72},
          "encoding": {
            "x": {"field": "t", "type": "quantitative", "scale": {"domain": [13.692, 27.143], "nice": false, "zero": false},
                  "axis": {"values": [14,15,16,17,18,19,20,21,22,23,24,25,26,27], "labelExpr": "(datum.value % 24 < 10 ? '0' : '') + (datum.value % 24) + ':00'", "title": "Time (Start Fill = 33042)", "grid": true, "labelPadding": 7, "titlePadding": 11}},
            "y": {"field": "v", "type": "quantitative", "scale": {"domain": [0, 5], "nice": false, "zero": false},
                  "axis": {"values": [0,0.5,1,1.5,2,2.5,3,3.5,4,4.5,5], "labelExpr": "datum.value % 1 == 0 ? format(datum.value, 'd') : ''", "grid": true, "gridOpacity": {"condition": {"test": "datum.value % 1 == 0", "value": 1}, "value": 0}, "title": "Emittance [mm.mrad]", "titlePadding": 9}},
            "color": {"field": "s", "type": "nominal", "scale": {"domain": ["BH","BV","YH"], "range": ["#1000CC","#00708A","#F2C500"]}, "legend": null},
            "shape": {"field": "s", "type": "nominal", "scale": {"domain": ["BH","BV","YH"], "range": ["circle","square","triangle-up"]}, "legend": null}
          }
        },
        {
          "data": {"name": "pts"},
          "transform": [{"filter": "datum.s == 'YV'"}],
          "mark": {"type": "point", "filled": false, "shape": "circle", "color": "#FF6A14", "strokeWidth": 2, "size": 52, "opacity": 1},
          "encoding": {
            "x": {"field": "t", "type": "quantitative", "scale": {"domain": [13.692, 27.143], "nice": false, "zero": false},
                  "axis": {"values": [14,15,16,17,18,19,20,21,22,23,24,25,26,27], "labelExpr": "(datum.value % 24 < 10 ? '0' : '') + (datum.value % 24) + ':00'", "title": "Time (Start Fill = 33042)", "grid": true, "labelPadding": 7, "titlePadding": 11}},
            "y": {"field": "v", "type": "quantitative", "scale": {"domain": [0, 5], "nice": false, "zero": false},
                  "axis": {"values": [0,0.5,1,1.5,2,2.5,3,3.5,4,4.5,5], "labelExpr": "datum.value % 1 == 0 ? format(datum.value, 'd') : ''", "grid": true, "gridOpacity": {"condition": {"test": "datum.value % 1 == 0", "value": 1}, "value": 0}, "title": "Emittance [mm.mrad]", "titlePadding": 9}}
          }
        },
        {
          "data": {"name": "pts"},
          "mark": {"type": "point", "filled": true, "opacity": 0, "size": 121},
          "encoding": {
            "x": {"field": "t", "type": "quantitative", "scale": {"domain": [13.692, 27.143], "nice": false, "zero": false},
                  "axis": {"values": [14,15,16,17,18,19,20,21,22,23,24,25,26,27], "labelExpr": "(datum.value % 24 < 10 ? '0' : '') + (datum.value % 24) + ':00'", "title": "Time (Start Fill = 33042)", "grid": true, "labelPadding": 7, "titlePadding": 11}},
            "y": {"field": "v", "type": "quantitative", "scale": {"domain": [0, 5], "nice": false, "zero": false},
                  "axis": {"values": [0,0.5,1,1.5,2,2.5,3,3.5,4,4.5,5], "labelExpr": "datum.value % 1 == 0 ? format(datum.value, 'd') : ''", "grid": true, "gridOpacity": {"condition": {"test": "datum.value % 1 == 0", "value": 1}, "value": 0}, "title": "Emittance [mm.mrad]", "titlePadding": 9}},
            "color": {"field": "s", "type": "nominal",
                      "scale": {"domain": ["BH","BV","YH","YV","Bump"], "range": ["#1000CC","#00708A","#F2C500","#FF6A14","#000000"]},
                      "legend": {"orient": "none", "legendX": 40.5, "legendY": 867, "direction": "horizontal", "columns": 5, "title": null, "padding": 0,
                                 "labelExpr": "datum.value == 'BH' ? 'BlueHoriz (D) (Y1)' : datum.value == 'BV' ? 'BlueVert (D) (Y1)' : datum.value == 'YH' ? 'YellowHoriz (D) (Y1)' : datum.value == 'YV' ? 'YellowVert (D) (Y1)' : 'Bump (Y2)'",
                                 "labelFont": "DejaVu Sans Mono", "labelFontSize": 14, "labelColor": "black", "labelOffset": 39.5, "labelLimit": 400, "columnPadding": 33,
                                 "symbolSize": 121, "symbolOpacity": 1, "symbolStrokeWidth": 0}},
            "shape": {"field": "s", "type": "nominal",
                      "scale": {"domain": ["BH","BV","YH","YV","Bump"], "range": [
                        "M-5,-0.09H5V0.09H-5Z M-0.78,0A0.78,0.78,0,1,1,0.78,0A0.78,0.78,0,1,1,-0.78,0Z",
                        "M-5,-0.09H5V0.09H-5Z M-0.66,-0.66H0.66V0.66H-0.66Z",
                        "M-5,-0.09H5V0.09H-5Z M0,-0.78L0.8,0.58L-0.8,0.58Z",
                        "M-5,-0.09H-0.8V0.09H-5Z M0.8,-0.09H5V0.09H0.8Z M-0.84,0A0.84,0.84,0,1,1,0.84,0A0.84,0.84,0,1,1,-0.84,0Z M-0.5,0A0.5,0.5,0,1,0,0.5,0A0.5,0.5,0,1,0,-0.5,0Z",
                        "M-5,-0.27H5V0.27H-5Z"]},
                      "legend": {"orient": "none", "legendX": 40.5, "legendY": 867, "direction": "horizontal", "columns": 5, "title": null, "padding": 0,
                                 "labelExpr": "datum.value == 'BH' ? 'BlueHoriz (D) (Y1)' : datum.value == 'BV' ? 'BlueVert (D) (Y1)' : datum.value == 'YH' ? 'YellowHoriz (D) (Y1)' : datum.value == 'YV' ? 'YellowVert (D) (Y1)' : 'Bump (Y2)'",
                                 "labelFont": "DejaVu Sans Mono", "labelFontSize": 14, "labelColor": "black", "labelOffset": 39.5, "labelLimit": 400, "columnPadding": 33,
                                 "symbolSize": 121, "symbolOpacity": 1, "symbolStrokeWidth": 0}}
          }
        }
      ],
      "resolve": {"scale": {"color": "independent", "shape": "independent"}}
    },
    {
      "data": {"name": "bump"},
      "mark": {"type": "line", "color": "black", "strokeWidth": 3},
      "encoding": {
        "x": {"field": "t", "type": "quantitative", "scale": {"domain": [13.692, 27.143], "nice": false, "zero": false},
              "axis": {"values": [14,15,16,17,18,19,20,21,22,23,24,25,26,27], "labelExpr": "(datum.value % 24 < 10 ? '0' : '') + (datum.value % 24) + ':00'", "title": "Time (Start Fill = 33042)", "grid": true, "labelPadding": 7, "titlePadding": 11}},
        "y": {"field": "b", "type": "quantitative", "scale": {"domain": [-0.9, 0.9], "nice": false, "zero": false},
              "axis": {"orient": "right", "title": null, "grid": false,
                       "values": [-0.9,-0.85,-0.8,-0.75,-0.7,-0.65,-0.6,-0.55,-0.5,-0.45,-0.4,-0.35,-0.3,-0.25,-0.2,-0.15,-0.1,-0.05,0,0.05,0.1,0.15,0.2,0.25,0.3,0.35,0.4,0.45,0.5,0.55,0.6,0.65,0.7,0.75,0.8,0.85,0.9],
                       "labelExpr": "round(datum.value*100) % 10 == 0 ? (datum.value < -0.001 ? '-' : '') + format(abs(datum.value), '.1f') : ''"}}
      }
    }
  ],
  "resolve": {"scale": {"y": "independent"}}
}
